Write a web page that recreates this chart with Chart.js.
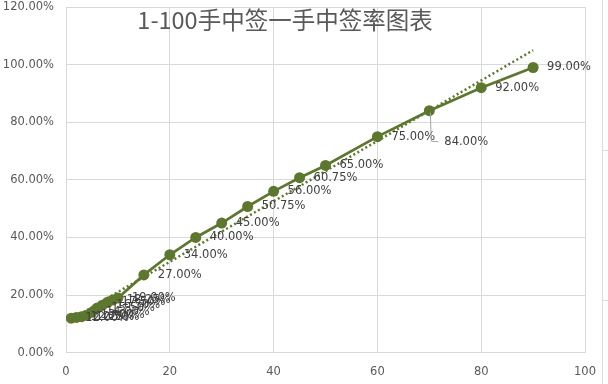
<!DOCTYPE html>
<html>
<head>
<meta charset="utf-8">
<script src="https://cdn.jsdelivr.net/npm/chart.js@4"></script>
<style>
  html, body { margin: 0; padding: 0; background: #ffffff; }
  #wrap { width: 608px; height: 384px; position: relative; }
</style>
</head>
<body>
<div id="wrap"><canvas id="c" width="608" height="384"></canvas></div>
<script>
// ---- data ----
const titleText = '1-100手中签一手中签率图表';
const lots = [1, 2, 3, 4, 5, 6, 7, 8, 9, 10, 15, 20, 25, 30, 35, 40, 45, 50, 60, 70, 80, 90];
const winRate = [12, 12.25, 12.5, 13, 14, 15.5, 16.5, 17.5, 18.25, 19, 27, 34, 40, 45, 50.75, 56, 60.75, 65, 75, 84, 92, 99];
const trendX = [1, 90];
const trendY = [11.6, 105];
const xTicks = [0, 20, 40, 60, 80, 100];
const yTicks = [0, 20, 40, 60, 80, 100, 120];

const OLIVE = '#5E772E';
const TXT = '#595959';
const GRID = '#d9d9d9';
const FONT = 'DejaVu Sans';

const pts = lots.map((x, i) => ({ x: x, y: winRate[i] }));
const trend = trendX.map((x, i) => ({ x: x, y: trendY[i] }));

const titlePlugin = {
  id: 'overlayTitle',
  afterDraw(chart) {
    const ctx = chart.ctx;
    ctx.save();
    ctx.font = '23.5px "Noto Sans CJK SC", sans-serif';
    ctx.fillStyle = TXT;
    ctx.textAlign = 'center';
    ctx.textBaseline = 'middle';
    ctx.fillText(titleText, 285, 20);
    ctx.restore();
  }
};

const labelPlugin = {
  id: 'pointLabels',
  afterDatasetsDraw(chart) {
    const ctx = chart.ctx;
    const meta = chart.getDatasetMeta(1);
    ctx.save();
    ctx.font = '11.5px "' + FONT + '"';
    ctx.fillStyle = '#404040';
    ctx.textAlign = 'left';
    ctx.textBaseline = 'middle';
    meta.data.forEach((el, i) => {
      const txt = winRate[i].toFixed(2) + '%';
      let lx = el.x + 14, ly = el.y;
      if (lots[i] === 70) {
        // displaced label with leader line
        lx = el.x + 15; ly = el.y + 31;
        ctx.strokeStyle = '#a6a6a6';
        ctx.lineWidth = 1;
        ctx.beginPath();
        ctx.moveTo(el.x + 1, el.y + 2);
        ctx.lineTo(el.x + 2, ly - 0.5);
        ctx.lineTo(el.x + 9, ly);
        ctx.stroke();
      }
      ctx.fillText(txt, lx, ly);
    });
    ctx.restore();
  }
};

const edgePlugin = {
  id: 'edgeLines',
  beforeDraw(chart) {
    const ctx = chart.ctx;
    ctx.save();
    ctx.strokeStyle = '#dcdcdc';
    ctx.lineWidth = 1;
    ctx.beginPath();
    ctx.moveTo(602.5, 0); ctx.lineTo(602.5, 384);
    ctx.moveTo(603, 150.5); ctx.lineTo(608, 150.5);
    ctx.moveTo(603, 300.5); ctx.lineTo(608, 300.5);
    ctx.stroke();
    ctx.restore();
  }
};

new Chart(document.getElementById('c'), {
  type: 'scatter',
  data: {
    datasets: [
      {
        label: 'trend',
        data: trend,
        showLine: true,
        borderColor: OLIVE,
        borderWidth: 2.5,
        borderDash: [2, 2.6],
        borderCapStyle: 'butt',
        pointRadius: 0,
        fill: false,
        order: 0
      },
      {
        label: titleText,
        data: pts,
        showLine: true,
        borderColor: OLIVE,
        borderWidth: 2.75,
        backgroundColor: OLIVE,
        pointBackgroundColor: OLIVE,
        pointBorderColor: OLIVE,
        pointRadius: 5.5,
        pointBorderWidth: 0,
        tension: 0,
        fill: false,
        order: 1
      }
    ]
  },
  options: {
    responsive: false,
    animation: false,
    devicePixelRatio: 1,
    layout: { padding: { top: 7, right: 20, left: 0, bottom: 0 } },
    plugins: {
      legend: { display: false },
      tooltip: { enabled: false },
      title: { display: false }
    },
    scales: {
      x: {
        type: 'linear',
        min: 0, max: 100,
        afterFit(s) { s.height = 31.3; },
        afterBuildTicks(s) { s.ticks = xTicks.map(v => ({ value: v })); },
        ticks: { color: TXT, font: { family: FONT, size: 11.5 }, padding: 12, maxRotation: 0 },
        grid: { color: GRID, drawTicks: false, lineWidth: 1 },
        border: { color: GRID }
      },
      y: {
        min: 0, max: 120,
        afterFit(s) { s.width = 66; s.paddingTop = 0; s.paddingBottom = 0; },
        afterBuildTicks(s) { s.ticks = yTicks.map(v => ({ value: v })); },
        ticks: {
          color: TXT, font: { family: FONT, size: 11.5 }, padding: 12,
          callback: v => v.toFixed(2) + '%'
        },
        grid: { color: GRID, drawTicks: false, lineWidth: 1 },
        border: { color: GRID }
      }
    }
  },
  plugins: [edgePlugin, labelPlugin, titlePlugin]
});
</script>
</body>
</html>
